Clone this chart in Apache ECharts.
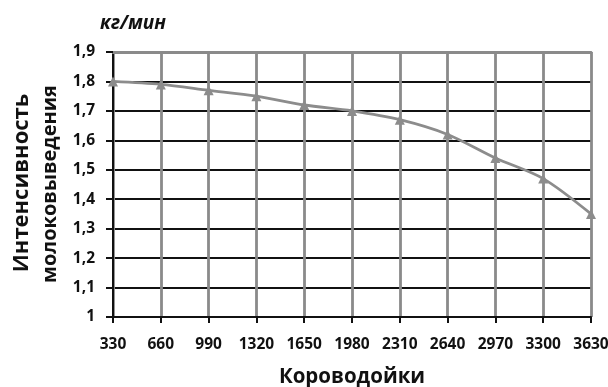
<!DOCTYPE html>
<html>
<head>
<meta charset="utf-8">
<script src="https://cdn.jsdelivr.net/npm/echarts@6/dist/echarts.min.js"></script>
<style>
  html, body { margin: 0; padding: 0; background: #fff; }
  #chart { width: 608px; height: 387px; }
</style>
</head>
<body>
<div id="chart"></div>
<script>
// Number of cows milked (x) and milk flow intensity, kg/min (y)
var categories = ['330', '660', '990', '1320', '1650', '1980', '2310', '2640', '2970', '3300', '3630'];
var intensity = [1.80, 1.79, 1.77, 1.75, 1.72, 1.70, 1.67, 1.62, 1.54, 1.47, 1.35];
var yMin = 1.0, yMax = 1.9, yStep = 0.1;

var font = '"Open Sans", "DejaVu Sans", sans-serif';
var ink = '#111';
var chart = echarts.init(document.getElementById('chart'), null, { renderer: 'canvas' });

chart.setOption({
  animation: false,
  backgroundColor: '#ffffff',
  title: {
    text: 'кг/мин',
    left: 95,
    top: 9,
    textStyle: { fontFamily: font, fontSize: 19, fontWeight: 'bold', fontStyle: 'italic', color: ink }
  },
  grid: { left: 113, right: 17, top: 52, bottom: 70, containLabel: false, outerBoundsMode: 'none' },
  graphic: [{
    type: 'text',
    x: 22, y: 183,
    rotation: Math.PI / 2,
    style: {
      text: 'Интенсивность',
      font: 'bold 22px ' + font,
      fill: ink,
      align: 'center',
      verticalAlign: 'middle'
    }
  }, {
    type: 'text',
    x: 50, y: 184,
    rotation: Math.PI / 2,
    style: {
      text: 'молоковыведения',
      font: 'bold 20px ' + font,
      fill: ink,
      align: 'center',
      verticalAlign: 'middle'
    }
  }],
  xAxis: [{
    type: 'category',
    data: categories,
    boundaryGap: false,
    name: 'Короводойки',
    nameLocation: 'middle',
    nameGap: 50,
    nameTextStyle: { fontFamily: font, fontSize: 20.5, fontWeight: 'bold', color: ink },
    axisLine: { lineStyle: { color: ink, width: 2 } },
    axisTick: { show: true, interval: 0, alignWithLabel: true, length: 6, lineStyle: { color: ink, width: 2 } },
    axisLabel: { interval: 0, hideOverlap: false, fontFamily: font, fontSize: 15.5, fontWeight: 'bold', color: ink, margin: 20 },
    splitLine: { show: true, interval: 0, lineStyle: { color: '#8a8a8a', width: 2.8 } }
  }, {
    type: 'category',
    data: categories,
    boundaryGap: false,
    position: 'top',
    axisLine: { show: true, lineStyle: { color: '#8a8a8a', width: 2.8 } },
    axisTick: { show: false },
    axisLabel: { show: false },
    splitLine: { show: false }
  }],
  yAxis: {
    type: 'value',
    min: yMin,
    max: yMax,
    interval: yStep,
    axisLine: { show: true, lineStyle: { color: ink, width: 2 } },
    axisTick: { show: true, length: 7, lineStyle: { color: ink, width: 2 } },
    axisLabel: {
      fontFamily: font, fontSize: 15.5, fontWeight: 'bold', color: ink, margin: 18,
      formatter: function (v) { return String(Math.round(v * 10) / 10).replace('.', ','); }
    },
    splitLine: { show: true, lineStyle: { color: ink, width: 1.8 } }
  },
  series: [{
    type: 'line',
    data: intensity,
    smooth: 0.3,
    symbol: 'triangle',
    symbolSize: 10,
    lineStyle: { color: '#8c8c8c', width: 2.8 },
    itemStyle: { color: '#8c8c8c' },
    z: 5
  }]
});
</script>
</body>
</html>
